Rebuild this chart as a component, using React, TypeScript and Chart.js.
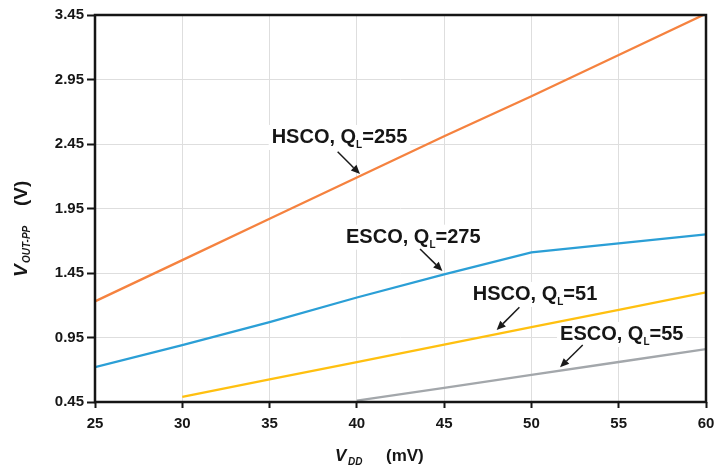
import React, { useEffect, useRef } from "react";
import { Chart, registerables } from "chart.js";

Chart.register(...registerables);

const xTicks = [25, 30, 35, 40, 45, 50, 55, 60];
const yTicks = [0.45, 0.95, 1.45, 1.95, 2.45, 2.95, 3.45];

const hscoHighX = [25, 30, 35, 40, 45, 50, 55, 60];
const hscoHighY = [1.23, 1.55, 1.87, 2.19, 2.51, 2.82, 3.14, 3.46];

const escoHighX = [25, 30, 35, 40, 45, 50, 55, 60];
const escoHighY = [0.72, 0.89, 1.07, 1.26, 1.44, 1.61, 1.68, 1.75];

const hscoLowX = [30, 35, 40, 45, 50, 55, 60];
const hscoLowY = [0.49, 0.625, 0.76, 0.895, 1.03, 1.165, 1.3];

const escoLowX = [40, 45, 50, 55, 60];
const escoLowY = [0.46, 0.56, 0.66, 0.76, 0.86];

const seriesNames = ["HSCO, QL=255", "ESCO, QL=275", "HSCO, QL=51", "ESCO, QL=55"];
const seriesColors = ["#F5823F", "#2B9FD6", "#FFC010", "#A3A7AB"];

// annotation: label parts, text anchor (data coords), arrow from/to (data coords)
const annotations = [
  { main: "HSCO, Q", sub: "L", rest: "=255", tx: 35.12, ty: 2.458, ax1: 38.9, ay1: 2.39, ax2: 40.18, ay2: 2.217 },
  { main: "ESCO, Q", sub: "L", rest: "=275", tx: 39.38, ty: 1.685, ax1: 43.62, ay1: 1.636, ax2: 44.9, ay2: 1.466 },
  { main: "HSCO, Q", sub: "L", rest: "=51", tx: 46.64, ty: 1.241, ax1: 49.31, ay1: 1.184, ax2: 48.01, ay2: 1.008 },
  { main: "ESCO, Q", sub: "L", rest: "=55", tx: 51.64, ty: 0.931, ax1: 52.94, ay1: 0.892, ax2: 51.64, ay2: 0.719 },
];

const FONT = '"Liberation Sans", Arial, sans-serif';
const ANNO_SIZE = 20;
const SUB_SIZE = 10;

function pts(xs: number[], ys: number[]) {
  return xs.map((x, i) => ({ x, y: ys[i] }));
}

const boxPlugin = {
  id: "annoBoxes",
  beforeDatasetsDraw(chart: any) {
    const ctx = chart.ctx;
    const xs = chart.scales.x;
    const ys = chart.scales.y;
    ctx.save();
    for (const a of annotations) {
      const px = xs.getPixelForValue(a.tx);
      const py = ys.getPixelForValue(a.ty);
      ctx.font = `bold ${ANNO_SIZE}px ${FONT}`;
      const w1 = ctx.measureText(a.main).width;
      const w3 = ctx.measureText(a.rest).width;
      ctx.font = `bold ${SUB_SIZE}px ${FONT}`;
      const w2 = ctx.measureText(a.sub).width;
      ctx.fillStyle = "#ffffff";
      ctx.fillRect(px - 3, py - 18, w1 + w2 + w3 + 6, 25);
    }
    ctx.restore();
  },
};

const drawPlugin = {
  id: "annoDraw",
  afterDraw(chart: any) {
    const ctx = chart.ctx;
    const xs = chart.scales.x;
    const ys = chart.scales.y;
    const ca = chart.chartArea;
    ctx.save();
    // frame
    ctx.strokeStyle = "#151515";
    ctx.lineWidth = 2.5;
    ctx.strokeRect(ca.left, ca.top, ca.right - ca.left, ca.bottom - ca.top);

    // annotations
    for (const a of annotations) {
      const px = xs.getPixelForValue(a.tx);
      const py = ys.getPixelForValue(a.ty);
      ctx.fillStyle = "#161616";
      ctx.textBaseline = "alphabetic";
      ctx.textAlign = "left";
      ctx.font = `bold ${ANNO_SIZE}px ${FONT}`;
      ctx.fillText(a.main, px, py);
      let cx = px + ctx.measureText(a.main).width;
      ctx.font = `bold ${SUB_SIZE}px ${FONT}`;
      ctx.fillText(a.sub, cx, py + 5);
      cx += ctx.measureText(a.sub).width;
      ctx.font = `bold ${ANNO_SIZE}px ${FONT}`;
      ctx.fillText(a.rest, cx, py);

      const x1 = xs.getPixelForValue(a.ax1);
      const y1 = ys.getPixelForValue(a.ay1);
      const x2 = xs.getPixelForValue(a.ax2);
      const y2 = ys.getPixelForValue(a.ay2);
      const ang = Math.atan2(y2 - y1, x2 - x1);
      const hl = 9;
      const hw = 4;
      const bx = x2 - hl * Math.cos(ang);
      const by = y2 - hl * Math.sin(ang);
      ctx.strokeStyle = "#1a1a1a";
      ctx.lineWidth = 1.5;
      ctx.beginPath();
      ctx.moveTo(x1, y1);
      ctx.lineTo(bx, by);
      ctx.stroke();
      ctx.beginPath();
      ctx.moveTo(x2, y2);
      ctx.lineTo(bx + hw * Math.sin(ang), by - hw * Math.cos(ang));
      ctx.lineTo(bx - hw * Math.sin(ang), by + hw * Math.cos(ang));
      ctx.closePath();
      ctx.fillStyle = "#1a1a1a";
      ctx.fill();
    }

    // x axis title
    ctx.fillStyle = "#161616";
    ctx.textAlign = "left";
    ctx.textBaseline = "alphabetic";
    const xb = 461;
    ctx.font = `italic bold 17px ${FONT}`;
    ctx.fillText("V", 335, xb);
    ctx.font = `italic bold 10px ${FONT}`;
    ctx.fillText("DD", 348, xb + 4);
    ctx.font = `bold 17px ${FONT}`;
    ctx.fillText("(mV)", 386, xb);

    // y axis title
    ctx.translate(27, 277);
    ctx.rotate(-Math.PI / 2);
    ctx.font = `italic bold 19px ${FONT}`;
    ctx.fillText("V", 0, 0);
    ctx.font = `italic bold 10px ${FONT}`;
    ctx.fillText("OUT-PP", 14, 3);
    ctx.font = `bold 19px ${FONT}`;
    ctx.fillText("(V)", 71, 0);
    ctx.restore();
  },
};

export default function App() {
  const ref = useRef<HTMLCanvasElement | null>(null);
  useEffect(() => {
    document.body.style.margin = "0";
    const canvas = ref.current;
    if (!canvas) return;
    const allX = [hscoHighX, escoHighX, hscoLowX, escoLowX];
    const allY = [hscoHighY, escoHighY, hscoLowY, escoLowY];
    const chart = new Chart(canvas, {
      type: "line",
      data: {
        datasets: seriesNames.map((name, i) => ({
          label: name,
          data: pts(allX[i], allY[i]),
          borderColor: seriesColors[i],
          backgroundColor: seriesColors[i],
          borderWidth: 2.3,
          pointRadius: 0,
          tension: 0,
          fill: false,
        })),
      },
      options: {
        responsive: false,
        animation: false,
        layout: { padding: { left: 0, right: 9, top: 15, bottom: 0 } },
        plugins: { legend: { display: false }, tooltip: { enabled: false } },
        scales: {
          x: {
            type: "linear",
            min: 25,
            max: 60,
            afterBuildTicks: (s: any) => {
              s.ticks = xTicks.map((v) => ({ value: v }));
            },
            afterFit: (s: any) => {
              s.height = 73;
              s.paddingRight = 0;
              s.paddingLeft = 0;
            },
            grid: { color: "#dedede", lineWidth: 1, tickColor: "#151515", tickWidth: 2, tickLength: 6 },
            border: { display: false },
            ticks: {
              color: "#161616",
              font: { family: FONT, size: 15, weight: "bold" },
              padding: 7,
              maxRotation: 0,
              callback: (v: any) => String(v),
            },
          },
          y: {
            type: "linear",
            min: 0.45,
            max: 3.45,
            afterBuildTicks: (s: any) => {
              s.ticks = yTicks.map((v) => ({ value: v }));
            },
            afterFit: (s: any) => {
              s.width = 95;
              s.paddingTop = 0;
              s.paddingBottom = 0;
            },
            grid: { color: "#dedede", lineWidth: 1, tickColor: "#151515", tickWidth: 2, tickLength: 8 },
            border: { display: false },
            ticks: {
              color: "#161616",
              font: { family: FONT, size: 15, weight: "bold" },
              padding: 3,
              callback: (v: any) => Number(v).toFixed(2),
            },
          },
        },
      },
      plugins: [boxPlugin, drawPlugin],
    } as any);
    return () => chart.destroy();
  }, []);
  return (
    <div style={{ position: "absolute", left: 0, top: 0, width: 715, height: 475, background: "#fff" }}>
      <canvas ref={ref} width={715} height={475} style={{ display: "block" }} />
    </div>
  );
}
